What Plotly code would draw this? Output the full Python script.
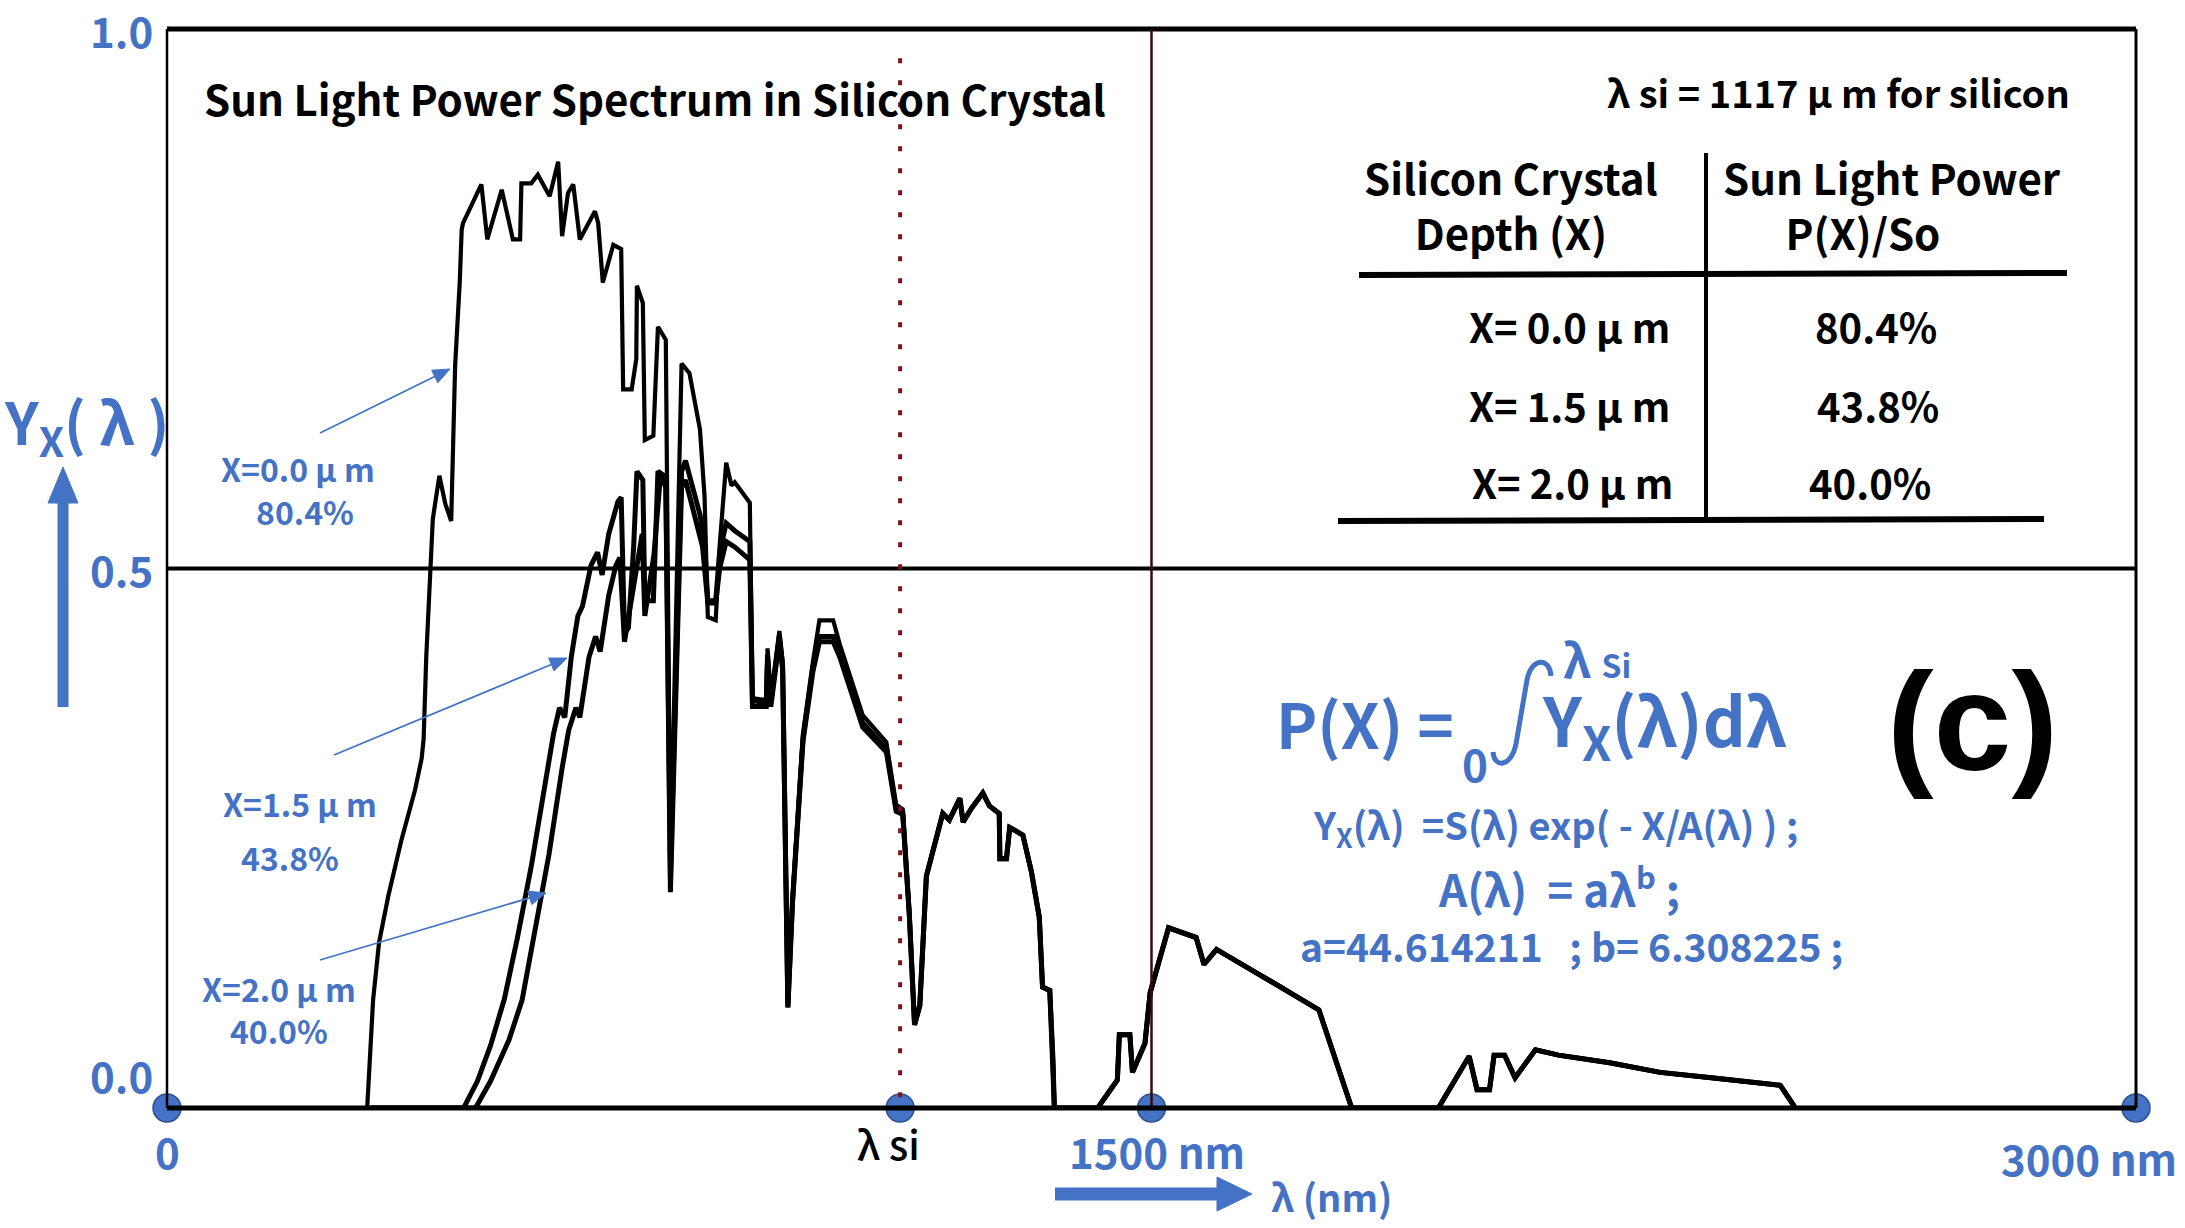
import math
import plotly.graph_objects as go

# ---------------------------------------------------------------------------
# Spectral data: wavelength (nm) and normalised power Y_X(lambda)
# ---------------------------------------------------------------------------
# Surface spectrum, X = 0.0 um (short-wavelength part)
lam_x00 = [305, 310, 314, 323, 337, 357, 378, 388, 391, 395, 402, 405, 415, 424,
           433, 436, 439, 446, 449, 451, 479, 488, 510, 527, 538, 540, 555, 565,
           583, 596, 602, 611, 619, 629, 652, 657, 664, 680, 692, 695, 708, 715,
           716, 725, 728, 741, 748, 760, 767, 784, 796, 812, 819, 824, 836, 842,
           852, 860, 865, 888, 892, 913, 915, 920, 933, 938, 946, 953, 969, 984,
           994, 1015, 1025, 1060, 1096, 1111, 1121, 1131, 1139]
y_x00 = [0.000, 0.060, 0.100, 0.153, 0.196, 0.248, 0.295, 0.324, 0.342, 0.418,
         0.499, 0.546, 0.586, 0.560, 0.544, 0.612, 0.688, 0.765, 0.814, 0.820,
         0.856, 0.805, 0.851, 0.805, 0.805, 0.857, 0.857, 0.865, 0.845, 0.877,
         0.808, 0.848, 0.856, 0.805, 0.831, 0.820, 0.765, 0.800, 0.796, 0.666,
         0.666, 0.694, 0.762, 0.746, 0.619, 0.623, 0.724, 0.712, 0.220, 0.690,
         0.681, 0.629, 0.567, 0.455, 0.452, 0.521, 0.598, 0.577, 0.580, 0.561,
         0.380, 0.378, 0.426, 0.380, 0.442, 0.414, 0.095, 0.194, 0.347, 0.413,
         0.452, 0.452, 0.430, 0.364, 0.339, 0.281, 0.277, 0.182, 0.078]

# Depth X = 1.5 um (short-wavelength part)
lam_x15 = [310, 452, 473, 493, 514, 534, 555, 575, 589, 598, 606, 616, 626, 633,
           646, 656, 663, 673, 687, 692, 697, 703, 711, 716, 725, 728, 741, 748,
           760, 767, 784, 790, 812, 819, 824, 836, 842, 852, 865, 888, 892, 913,
           915, 920, 933, 938, 946, 953, 969, 984, 994, 1015, 1025, 1060, 1096,
           1111, 1121, 1131, 1139]
y_x15 = [0.000, 0.000, 0.025, 0.058, 0.101, 0.158, 0.224, 0.295, 0.347, 0.371,
         0.362, 0.418, 0.456, 0.465, 0.503, 0.515, 0.494, 0.532, 0.562, 0.566,
         0.440, 0.445, 0.520, 0.590, 0.582, 0.470, 0.470, 0.590, 0.585, 0.215,
         0.590, 0.600, 0.550, 0.524, 0.470, 0.470, 0.515, 0.542, 0.535, 0.525,
         0.378, 0.375, 0.420, 0.376, 0.438, 0.410, 0.094, 0.192, 0.343, 0.408,
         0.437, 0.437, 0.422, 0.357, 0.333, 0.277, 0.274, 0.180, 0.077]

# Depth X = 2.0 um (short-wavelength part)
lam_x20 = [310, 470, 493, 521, 541, 561, 582, 602, 612, 623, 629, 643, 653, 660,
           673, 684, 690, 697, 711, 724, 728, 742, 752, 760, 767, 784, 790, 816,
           824, 836, 842, 852, 865, 888, 892, 913, 915, 920, 933, 938, 946, 953,
           969, 984, 994, 1015, 1025, 1060, 1096, 1111, 1121, 1131, 1139]
y_x20 = [0.000, 0.000, 0.025, 0.063, 0.100, 0.165, 0.235, 0.315, 0.350, 0.371,
         0.362, 0.418, 0.437, 0.423, 0.475, 0.503, 0.510, 0.432, 0.484, 0.532,
         0.456, 0.513, 0.588, 0.575, 0.200, 0.575, 0.582, 0.520, 0.468, 0.468,
         0.500, 0.525, 0.520, 0.508, 0.372, 0.372, 0.415, 0.372, 0.434, 0.406,
         0.093, 0.190, 0.340, 0.404, 0.432, 0.432, 0.418, 0.353, 0.330, 0.275,
         0.272, 0.179, 0.077]

# Long-wavelength tail, common to all three depths
lam_tail = [1147, 1157, 1182, 1192, 1208, 1213, 1226, 1243, 1253, 1268, 1269, 1279,
            1284, 1304, 1317, 1329, 1334, 1345, 1350, 1352, 1418, 1448, 1451, 1467,
            1471, 1490, 1498, 1526, 1568, 1580, 1599, 1693, 1755, 1805, 1937, 1984,
            1996, 2015, 2022, 2038, 2054, 2085, 2120, 2198, 2275, 2353, 2458, 2481]
y_tail = [0.095, 0.215, 0.273, 0.267, 0.287, 0.265, 0.278, 0.292, 0.280, 0.273,
          0.231, 0.231, 0.260, 0.253, 0.219, 0.177, 0.112, 0.109, 0.044, 0.000,
          0.000, 0.026, 0.068, 0.068, 0.033, 0.060, 0.107, 0.167, 0.158, 0.133,
          0.147, 0.114, 0.091, 0.000, 0.000, 0.048, 0.017, 0.017, 0.049, 0.049,
          0.028, 0.054, 0.049, 0.042, 0.033, 0.028, 0.021, 0.000]

# Wavelength nodes on the axis and the y tick values
lambda_si = 1117
node_lambda = [0, lambda_si, 1500, 3000]
y_ticks = [0.0, 0.5, 1.0]

# Table contents
depths = ["X= 0.0 μ m", "X= 1.5 μ m", "X= 2.0 μ m"]
powers = ["80.4%", "43.8%", "40.0%"]

# ---------------------------------------------------------------------------
W, H = 2185, 1228
L, R, T, B = 167, 49, 29, 120
PW, PH = W - L - R, H - T - B
BLUE = "#4472C4"
FONT = "Noto Sans CJK JP"
NBSP = "\u00a0"


def px(x):
    return (x - L) / PW


def py(y):
    return (H - B - y) / PH


def pt(x, y):
    return f"{px(x)},{py(y)}"


fig = go.Figure()

curves = [
    (lam_x20 + lam_tail, y_x20 + y_tail, 5.0),
    (lam_x15 + lam_tail, y_x15 + y_tail, 5.0),
    (lam_x00 + lam_tail, y_x00 + y_tail, 4.2),
]
for lam, yy, w in curves:
    fig.add_trace(go.Scatter(x=lam, y=yy, mode="lines",
                             line=dict(color="black", width=w),
                             hoverinfo="skip", showlegend=False))

fig.add_trace(go.Scatter(x=node_lambda, y=[0] * len(node_lambda), mode="markers",
                         marker=dict(size=28, color=BLUE,
                                     line=dict(color="#2F528F", width=1.5)),
                         cliponaxis=False, hoverinfo="skip", showlegend=False))

shapes = []
# frame
shapes.append(dict(type="line", xref="paper", yref="paper", x0=0, x1=1, y0=1, y1=1,
                   line=dict(color="black", width=5)))
shapes.append(dict(type="line", xref="paper", yref="paper", x0=0, x1=0, y0=0, y1=1,
                   line=dict(color="black", width=2.5)))
shapes.append(dict(type="line", xref="paper", yref="paper", x0=1, x1=1, y0=0, y1=1,
                   line=dict(color="black", width=3)))
# half-level line
shapes.append(dict(type="line", xref="paper", yref="y", x0=0, x1=1, y0=0.5, y1=0.5,
                   line=dict(color="black", width=4)))
# lambda_si marker line and 1500 nm line
shapes.append(dict(type="line", xref="x", yref="paper", x0=lambda_si, x1=lambda_si,
                   y0=0.01, y1=0.98, line=dict(color="#7b1515", width=4, dash="5px,17px")))
shapes.append(dict(type="line", xref="x", yref="paper", x0=1500, x1=1500, y0=0, y1=1,
                   line=dict(color="#3a0808", width=2.5)))
# table rules
shapes.append(dict(type="line", xref="paper", yref="paper", x0=px(1706), x1=px(1706),
                   y0=py(153), y1=py(521), line=dict(color="black", width=4)))
shapes.append(dict(type="line", xref="paper", yref="paper", x0=px(1359), x1=px(2067),
                   y0=py(275), y1=py(273), line=dict(color="black", width=6)))
shapes.append(dict(type="line", xref="paper", yref="paper", x0=px(1338), x1=px(2044),
                   y0=py(521), y1=py(519), line=dict(color="black", width=6)))
# blue block arrows (y direction and x direction)
shapes.append(dict(type="line", xref="paper", yref="paper", x0=px(63), x1=px(63),
                   y0=py(707), y1=py(498), line=dict(color=BLUE, width=11)))
shapes.append(dict(type="path", xref="paper", yref="paper",
                   path=f"M {pt(48, 503)} L {pt(78, 503)} L {pt(63, 467)} Z",
                   fillcolor=BLUE, line=dict(color=BLUE, width=1)))
shapes.append(dict(type="line", xref="paper", yref="paper", x0=px(1055), x1=px(1222),
                   y0=py(1194), y1=py(1194), line=dict(color=BLUE, width=13)))
shapes.append(dict(type="path", xref="paper", yref="paper",
                   path=f"M {pt(1217, 1177)} L {pt(1217, 1211)} L {pt(1252, 1194)} Z",
                   fillcolor=BLUE, line=dict(color=BLUE, width=1)))

# integral sign of the power formula
shapes.append(dict(type="path", xref="paper", yref="paper",
                   path=(f"M {pt(1551, 676)} C {pt(1550, 658)} {pt(1532, 656)} {pt(1527, 680)} "
                         f"L {pt(1516, 744)} C {pt(1511, 768)} {pt(1494, 768)} {pt(1493, 752)}"),
                   line=dict(color=BLUE, width=5)))

# thin pointer arrows from the depth labels to their curves
pointers = [((450, 369), (320, 433)), ((567, 658), (334, 755)), ((546, 893), (320, 960))]
for (hx, hy), (tx, ty) in pointers:
    d = math.hypot(hx - tx, hy - ty)
    ux, uy = (hx - tx) / d, (hy - ty) / d
    nx, ny = -uy, ux
    bx, by = hx - 17 * ux, hy - 17 * uy
    shapes.append(dict(type="line", xref="paper", yref="paper",
                       x0=px(tx), y0=py(ty), x1=px(bx), y1=py(by),
                       line=dict(color=BLUE, width=1.8)))
    shapes.append(dict(type="path", xref="paper", yref="paper",
                       path=(f"M {pt(hx, hy)} L {pt(bx + 7 * nx, by + 7 * ny)} "
                             f"L {pt(bx - 7 * nx, by - 7 * ny)} Z"),
                       fillcolor=BLUE, line=dict(color=BLUE, width=1)))

# axis line at y = 0 (drawn last so it sits over the curves)
shapes.append(dict(type="line", xref="paper", yref="paper", x0=0, x1=1, y0=0, y1=0,
                   line=dict(color="black", width=5)))

ann = []


def text(x, y, s, size, color=BLUE, weight="bold", xanchor="center", family=FONT):
    ann.append(dict(xref="paper", yref="paper", x=px(x), y=py(y), text=s,
                    showarrow=False, xanchor=xanchor, yanchor="middle",
                    font=dict(family=family, size=size, color=color, weight=weight)))


# y tick labels
for v in y_ticks:
    shift = 34 if v == 0 else 0
    ann.append(dict(xref="paper", yref="y", x=px(155), y=v, yshift=shift,
                    text=f"{v:.1f}", showarrow=False, xanchor="right", yanchor="middle",
                    font=dict(family=FONT, size=42, color=BLUE, weight="bold")))

# x labels
ann.append(dict(xref="x", yref="paper", x=node_lambda[0], y=py(1150), text="0",
                showarrow=False, xanchor="center", yanchor="middle",
                font=dict(family=FONT, size=42, color=BLUE, weight="bold")))
ann.append(dict(xref="x", yref="paper", x=node_lambda[1], xshift=-12, y=py(1143),
                text="λ si", showarrow=False, xanchor="center", yanchor="middle",
                font=dict(family=FONT, size=40, color="black", weight=500)))
ann.append(dict(xref="x", yref="paper", x=node_lambda[2], xshift=5, y=py(1150),
                text="1500 nm", showarrow=False, xanchor="center", yanchor="middle",
                font=dict(family=FONT, size=42, color=BLUE, weight="bold")))
ann.append(dict(xref="x", yref="paper", x=node_lambda[3], xshift=43, y=py(1157),
                text="3000 nm", showarrow=False, xanchor="right", yanchor="middle",
                font=dict(family=FONT, size=42, color=BLUE, weight="bold")))
text(1331, 1196, "λ (nm)", 38)

# y axis label
text(87, 423, "Y<sub>X</sub>( λ )", 58)

# title
text(655, 97, "Sun Light Power Spectrum in Silicon Crystal", 42, color="black")

# table
text(1838, 92, "λ si = 1117 μ m for silicon", 38, color="black")
text(1511, 204, "Silicon Crystal<br>Depth (X)", 42, color="black")
text(1892, 204, "Sun Light Power<br>P(X)/So" + NBSP * 6, 42, color="black")
row_y = [326, 405, 482]
row_right = [1672, 1672, 1675]
row_pct_x = [1876, 1878, 1870]
for d, p, yy, xr, xc in zip(depths, powers, row_y, row_right, row_pct_x):
    text(xr, yy, d, 40, color="black", xanchor="right")
    text(xc, yy, p, 40, color="black")

# formulas
text(1365, 722, "P(X) =", 62)
text(1475, 763, "0", 44)
text(1597, 658, "λ <span style='font-size:32px'>Si</span>", 46)
text(1664, 722, "Y<sub>X</sub>(λ)dλ", 67)
text(1555, 826, "Y<sub>X</sub>(λ)" + NBSP * 2 + "=S(λ) exp( - X/A(λ) ) ;", 38)
text(1559, 886, "A(λ)" + NBSP * 2 + "= aλ<sup>b</sup> ;", 44)
text(1571, 945, "a=44.614211" + NBSP * 2 + " ; b= 6.308225 ;", 39)
text(1972, 722, "(c)", 140, color="black", family="Liberation Sans")

# depth labels
text(298, 468, "X=0.0 μ m", 32)
text(305, 511, "80.4%", 32)
text(300, 803, "X=1.5 μ m", 32)
text(290, 857, "43.8%", 32)
text(279, 1009, "X=2.0 μ m<br>40.0%", 32)

fig.update_layout(
    width=W, height=H,
    margin=dict(l=L, r=R, t=T, b=B),
    paper_bgcolor="white", plot_bgcolor="white",
    xaxis=dict(range=[0, 3000], visible=False, showgrid=False, zeroline=False),
    yaxis=dict(range=[0, 1], visible=False, showgrid=False, zeroline=False),
    shapes=shapes, annotations=ann,
    font=dict(family=FONT),
)

fig.write_html("out.html")
